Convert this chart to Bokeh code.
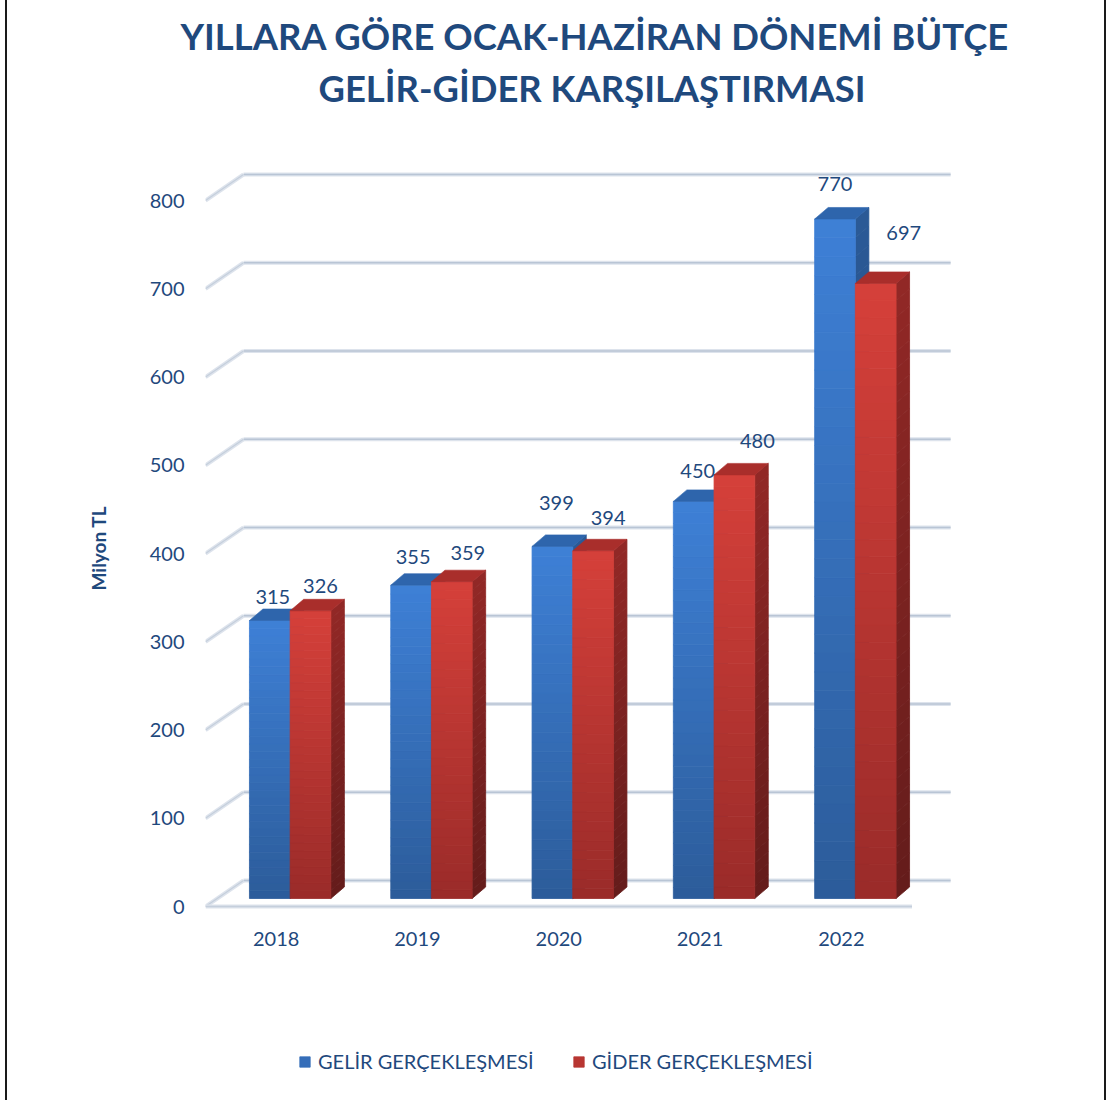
import numpy as np
from bokeh.plotting import figure
from bokeh.models import Range1d, FixedTicker, Title, Legend, LegendItem
from bokeh.core.properties import value
from bokeh.embed import file_html
from bokeh.resources import INLINE

# ---------------- data ----------------
years = ["2018", "2019", "2020", "2021", "2022"]
gelir = [315, 355, 399, 450, 770]
gider = [326, 359, 394, 480, 697]
y_ticks = [0, 100, 200, 300, 400, 500, 600, 700, 800]
series_names = ["GELİR GERÇEKLEŞMESİ", "GİDER GERÇEKLEŞMESİ"]
title_lines = ["YILLARA GÖRE  OCAK-HAZİRAN  DÖNEMİ  BÜTÇE", "GELİR-GİDER  KARŞILAŞTIRMASI"]
y_axis_title = "Milyon TL"

# label nudges (px: right, up from bar front-top centre)
nudge_gelir = [(3, 24), (2, 28), (4, 43), (4, 30), (0, 35)]
nudge_gider = [(10, 25), (16, 29), (15, 33), (23, 34), (28, 50)]

# ---------------- geometry / style ----------------
TXT = "#1F497D"
FONT = "Lato"
PX_X = 141.3          # px per category
PX_Y = 0.8825         # px per value unit
WALL_DX, WALL_DY = 38 / PX_X, 26 / PX_Y
FRONT_DX, FRONT_DY = 14 / PX_X, 8 / PX_Y
DEP_DX, DEP_DY = 13.5 / PX_X, 11.5 / PX_Y
BAR_W = 40.7 / PX_X
NSTRIP = 36

OX = 7                      # canvas origin on page (margin 5 + border 2)
W, H = 1101, 1100
FL, FR, FT, FB = 205 - OX, 960 - OX, 115, H   # frame box in canvas px
FLOOR_Y = 906               # page y of the value-0 floor edge

x0 = -0.5
x1 = x0 + (FR - FL) / PX_X
y0 = -(FB - FLOOR_Y) / PX_Y
y1 = (FLOOR_Y - FT) / PX_Y

p = figure(width=W, height=H, output_backend="svg", toolbar_location=None,
           x_range=Range1d(x0, x1), y_range=Range1d(y0, y1),
           min_border_left=FL, min_border_right=W - FR,
           min_border_top=FT, min_border_bottom=0,
           background_fill_color="white", border_fill_color="white")
p.styles = {"margin-left": "5px",
            "border-left": "2px solid #1a1a1a", "border-right": "2px solid #1a1a1a"}
p.title.visible = False
p.outline_line_color = None
p.xgrid.visible = False
p.ygrid.visible = False

# titles (first added sits closest to the frame); offset from frame left
p.add_layout(Title(text=title_lines[1], align="left", offset=318 - 205, standoff=12,
                   text_font=FONT, text_font_size="36.4px", text_font_style="bold",
                   text_color=TXT), "above")
p.add_layout(Title(text=title_lines[0], align="left", offset=180 - 205, standoff=0,
                   text_font=FONT, text_font_size="36.4px", text_font_style="bold",
                   text_color=TXT), "above")

# axes
ax = p.xaxis[0]
ax.fixed_location = 0
ax.ticker = FixedTicker(ticks=list(range(len(years))))
ax.major_label_overrides = {i: y for i, y in enumerate(years)}
ay = p.yaxis[0]
ay.ticker = FixedTicker(ticks=y_ticks)
for a in (ax, ay):
    a.axis_line_color = None
    a.major_tick_line_color = None
    a.minor_tick_line_color = None
    a.major_label_text_font = FONT
    a.major_label_text_font_size = "20px"
    a.major_label_text_color = TXT
ax.major_label_standoff = 19
ay.major_label_standoff = 15

# y-axis title as a vertical side title, placed level with the value scale
p.add_layout(Title(text=y_axis_title, align="left", offset=510, standoff=73,
                   text_font=FONT, text_font_size="19px", text_font_style="bold",
                   text_color=TXT), "left")

# ---------------- walls / floor ----------------
cat_lo, cat_hi = -0.5, len(years) - 0.5
wall_right = x1 - 0.07
for v in y_ticks:
    p.line([cat_lo + WALL_DX, wall_right], [v + WALL_DY, v + WALL_DY],
           line_color="#DDE3EC", line_width=4)
    p.line([cat_lo + WALL_DX, wall_right], [v + WALL_DY, v + WALL_DY],
           line_color="#B9C5D5", line_width=1.5)
    p.line([cat_lo, cat_lo + WALL_DX], [v, v + WALL_DY], line_color="#DDE3EC", line_width=4)
    p.line([cat_lo, cat_lo + WALL_DX], [v, v + WALL_DY], line_color="#C5CFDC", line_width=1.2)
p.line([cat_lo, cat_hi], [0, 0], line_color="#DDE3EC", line_width=4)
p.line([cat_lo, cat_hi], [0, 0], line_color="#C5CFDC", line_width=1.5)


def hex2rgb(h):
    h = h.lstrip("#")
    return np.array([int(h[i:i + 2], 16) for i in (0, 2, 4)], dtype=float)


def mix(c_top, c_bot, t):  # t=0 bottom, 1 top
    a, b = hex2rgb(c_bot), hex2rgb(c_top)
    c = a + (b - a) * t
    return "#%02x%02x%02x" % tuple(int(round(v)) for v in c)


def draw_bars(vals, side_sign, front_cols, side_cols, top_col):
    fl, fr, fb, ft, fc = [], [], [], [], []
    sxs, sys, sc = [], [], []
    txs, tys = [], []
    for i, v in enumerate(vals):
        cx = i + FRONT_DX
        xl = cx + (0 if side_sign > 0 else -BAR_W)
        xr = xl + BAR_W
        base = FRONT_DY
        top = base + v
        for k in range(NSTRIP):
            b = base + v * k / NSTRIP
            t = base + v * (k + 1) / NSTRIP
            tt = (k + 0.5) / NSTRIP
            fl.append(xl); fr.append(xr); fb.append(b); ft.append(t)
            fc.append(mix(front_cols[0], front_cols[1], tt))
            sxs.append([xr, xr + DEP_DX, xr + DEP_DX, xr])
            sys.append([b, b + DEP_DY, t + DEP_DY, t])
            sc.append(mix(side_cols[0], side_cols[1], tt))
        txs.append([xl, xr, xr + DEP_DX, xl + DEP_DX])
        tys.append([top, top, top + DEP_DY, top + DEP_DY])
    p.patches(xs=sxs, ys=sys, fill_color=sc, line_color=sc, line_width=0.8)
    front = p.quad(left=fl, right=fr, bottom=fb, top=ft, fill_color=fc, line_color=fc,
                   line_width=0.8)
    p.patches(xs=txs, ys=tys, fill_color=top_col, line_color=top_col, line_width=0.6)
    return front


f1 = draw_bars(gelir, -1, ("#3E80D6", "#2C5C9A"), ("#2B5A97", "#1F4373"), "#2E65AC")
f2 = draw_bars(gider, +1, ("#D5403A", "#9A2B29"), ("#922826", "#641C1B"), "#A92E2B")

# data labels
for vals, sign, nud in ((gelir, -1, nudge_gelir), (gider, +1, nudge_gider)):
    xs, ys, tx = [], [], []
    for i, v in enumerate(vals):
        cx = i + FRONT_DX + sign * BAR_W / 2
        xs.append(cx + nud[i][0] / PX_X)
        ys.append(FRONT_DY + v + nud[i][1] / PX_Y)
        tx.append(str(v))
    p.text(x=xs, y=ys, text=tx, text_align="center", text_baseline="middle",
           text_font=value(FONT), text_font_size="20px", text_color=TXT)

# legend (inside the frame, which reaches the bottom of the canvas)
leg = Legend(items=[LegendItem(label=series_names[0], renderers=[f1], index=NSTRIP // 2),
                    LegendItem(label=series_names[1], renderers=[f2], index=NSTRIP // 2)],
             orientation="horizontal", location=(298 - 205, 27), margin=0, padding=0,
             spacing=0, label_width=254, label_height=20,
             glyph_width=13, glyph_height=13, label_standoff=7,
             label_text_font=FONT, label_text_font_size="20px", label_text_color=TXT,
             border_line_color=None, background_fill_alpha=0)
p.add_layout(leg, "center")

open("out.html", "w").write(file_html(p, INLINE))
